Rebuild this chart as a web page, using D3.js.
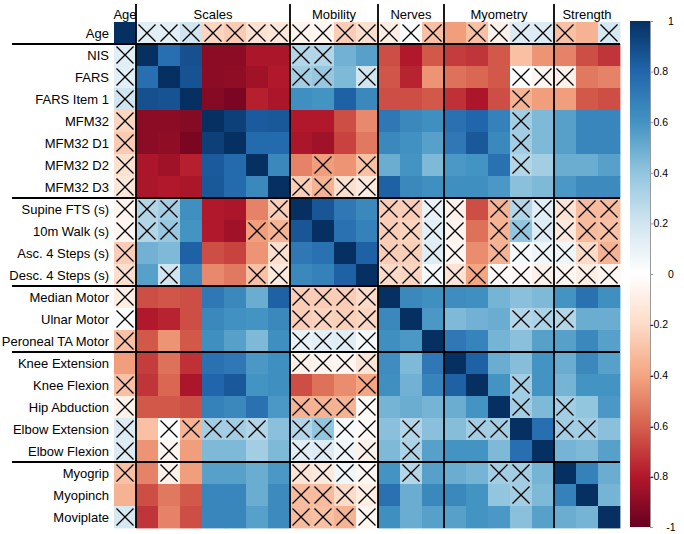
<!DOCTYPE html>
<html><head><meta charset="utf-8">
<script src="https://cdn.jsdelivr.net/npm/d3@7"></script>
<style>
body{margin:0;background:#fff}
svg{display:block}
text{font-family:"Liberation Sans",Arial,Helvetica,sans-serif;fill:#000}
</style>
</head><body><svg id="c" width="684" height="534"></svg>
<script>
// ---------------- DATA ----------------
const variables = ["Age","NIS","FARS","FARS Item 1","MFM32","MFM32 D1","MFM32 D2","MFM32 D3",
  "Supine FTS (s)","10m Walk (s)","Asc. 4 Steps (s)","Desc. 4 Steps (s)",
  "Median Motor","Ulnar Motor","Peroneal TA Motor",
  "Knee Extension","Knee Flexion","Hip Abduction","Elbow Extension","Elbow Flexion",
  "Myogrip","Myopinch","Moviplate"];
const groupNames = ["Age","Scales","Mobility","Nerves","Myometry","Strength"];
const groupSizes = [1,7,4,3,5,3];

// lower triangle of the correlation matrix (row i: columns 0..i)
const corrLower = [
 [1],
 [0.13,1],
 [0.12,0.76,1],
 [0.2,0.88,0.87,1],
 [-0.22,-0.9,-0.9,-0.92,1],
 [-0.26,-0.9,-0.89,-0.95,0.94,1],
 [-0.16,-0.82,-0.85,-0.78,0.84,0.78,1],
 [-0.14,-0.82,-0.8,-0.82,0.85,0.78,0.65,1],
 [-0.06,0.3,0.35,0.62,-0.8,-0.82,-0.5,-0.25,1],
 [-0.05,0.3,0.38,0.6,-0.8,-0.85,-0.42,-0.35,0.86,1],
 [-0.25,0.48,0.45,0.82,-0.65,-0.68,-0.45,-0.18,0.72,0.75,1],
 [-0.18,0.55,0.2,0.65,-0.48,-0.53,-0.3,-0.12,0.65,0.68,0.82,1],
 [-0.1,-0.65,-0.63,-0.65,0.72,0.65,0.5,0.82,-0.25,-0.25,-0.25,-0.2,1],
 [0.02,-0.8,-0.77,-0.65,0.65,0.61,0.6,0.65,-0.25,-0.23,-0.24,-0.22,0.65,1],
 [-0.3,-0.62,-0.45,-0.62,0.62,0.55,0.45,0.62,0.1,0.12,0.14,0.05,0.62,0.58,1],
 [-0.42,-0.7,-0.55,-0.73,0.75,0.72,0.58,0.62,-0.08,-0.06,-0.05,-0.15,0.63,0.45,0.72,1],
 [-0.3,-0.72,-0.58,-0.82,0.8,0.85,0.6,0.62,-0.65,-0.55,-0.47,-0.4,0.62,0.48,0.67,0.82,1],
 [-0.08,-0.62,-0.62,-0.65,0.68,0.65,0.75,0.58,-0.35,-0.35,-0.35,-0.03,0.47,0.5,0.47,0.5,0.6,1],
 [0.15,-0.3,0.0,-0.35,0.35,0.35,0.3,0.42,0.3,0.4,0.04,-0.03,0.42,0.3,0.42,0.43,0.35,0.35,1],
 [0.15,-0.45,-0.05,-0.42,0.45,0.45,0.35,0.45,0.13,0.15,0.07,-0.08,0.45,0.32,0.55,0.6,0.6,0.45,0.76,1],
 [-0.3,-0.5,-0.08,-0.42,0.55,0.55,0.5,0.58,-0.15,-0.12,0.07,-0.05,0.6,0.3,0.55,0.5,0.47,0.35,0.35,0.47,1],
 [-0.35,-0.65,-0.53,-0.62,0.66,0.66,0.5,0.64,-0.32,-0.32,-0.2,-0.1,0.75,0.5,0.65,0.65,0.6,0.4,0.35,0.45,0.68,1],
 [0.18,-0.72,-0.5,-0.65,0.66,0.66,0.55,0.64,-0.32,-0.3,-0.35,-0.05,0.62,0.5,0.55,0.55,0.6,0.58,0.42,0.55,0.5,0.47,1]
];
// non-significant flags, lower triangle ("1" = crossed out)
const insignificant = [
 "0","10","100","1000","10000","100000","1000000","10000000",
 "111000010",
 "1110001100",
 "10000001000",
 "101000110000",
 "1000000011110",
 "10000000111100",
 "100000001111000",
 "0000000011110000",
 "10000000000100000",
 "100000001111000000",
 "1011111011110100110",
 "10100000111101000000",
 "101000001111010001100",
 "0000000011110000001000",
 "10000000111100000000000"
];
const colorTicks = [1,0.8,0.6,0.4,0.2,0,-0.2,-0.4,-0.6,-0.8,-1];
const palette = ["#67001F","#B2182B","#D6604D","#F4A582","#FDDBC7","#FFFFFF","#D1E5F0","#92C5DE","#4393C3","#2166AC","#053061"];

// ---------------- CHART ----------------
const svg = d3.select("#c");
const gLeft = 114, gTop = 22, cell = 22, n = variables.length;
const x = d3.scaleBand().domain(variables).range([gLeft, gLeft + n*cell]);
const y = d3.scaleBand().domain(variables).range([gTop, gTop + n*cell]);
const color = d3.scaleLinear().domain(d3.range(11).map(i => -1 + i*0.2)).range(palette).interpolate(d3.interpolateRgb);

const cells = [];
variables.forEach((r, i) => variables.forEach((c, j) => {
  const a = Math.max(i,j), b = Math.min(i,j);
  cells.push({r, c, v: corrLower[a][b], ns: insignificant[a][b] === "1"});
}));

svg.append("g").selectAll("rect").data(cells).join("rect")
  .attr("x", d => x(d.c)).attr("y", d => y(d.r))
  .attr("width", x.bandwidth() + 0.4).attr("height", y.bandwidth() + 0.4)
  .attr("fill", d => color(d.v));

const k = 2.5;
svg.append("g").selectAll("path").data(cells.filter(d => d.ns)).join("path")
  .attr("d", d => {
    const x0 = x(d.c) + k, y0 = y(d.r) + k, x1 = x(d.c) + cell - k, y1 = y(d.r) + cell - k;
    return `M${x0},${y0}L${x1},${y1}M${x1},${y0}L${x0},${y1}`;
  })
  .attr("stroke", "#000").attr("stroke-width", 1.3).attr("fill", "none");

// row labels
svg.append("g").selectAll("text").data(variables).join("text")
  .attr("x", 109).attr("y", d => y(d) + cell/2).attr("dy", "0.36em")
  .attr("text-anchor", "end").attr("font-size", 13).text(d => d);

// group separators and headers
const starts = groupSizes.map((s, i) => d3.sum(groupSizes.slice(0, i)));
const lines = svg.append("g").attr("stroke", "#000").attr("stroke-width", 1.8);
starts.slice(1).forEach(b => {
  lines.append("line").attr("x1", gLeft + b*cell).attr("x2", gLeft + b*cell).attr("y1", 4).attr("y2", gTop + n*cell);
  lines.append("line").attr("x1", 12).attr("x2", gLeft + n*cell).attr("y1", gTop + b*cell).attr("y2", gTop + b*cell);
});
svg.append("g").selectAll("text").data(groupNames).join("text")
  .attr("x", (d, i) => gLeft + (starts[i] + groupSizes[i]/2)*cell)
  .attr("y", 19).attr("text-anchor", "middle").attr("font-size", 13).text(d => d);

// colour legend
const cb = d3.scaleLinear().domain([-1, 1]).range([527, 21]);
const grad = svg.append("defs").append("linearGradient").attr("id", "g")
  .attr("x1", 0).attr("y1", 1).attr("x2", 0).attr("y2", 0);
palette.forEach((c, i) => grad.append("stop").attr("offset", i/10).attr("stop-color", c));
svg.append("rect").attr("x", 630).attr("y", cb(1)).attr("width", 20).attr("height", cb(-1) - cb(1)).attr("fill", "url(#g)");
const ax = svg.append("g").attr("transform", "translate(650,0)")
  .call(d3.axisRight(cb).tickValues(colorTicks).tickSize(3).tickSizeOuter(0).tickFormat(d => String(+d.toFixed(1))));
ax.select(".domain").attr("stroke", "#999");
ax.selectAll(".tick line").attr("stroke", "#999");
ax.selectAll(".tick text")
  .attr("font-family", "'Liberation Sans',Arial,sans-serif").attr("font-size", 10.5).attr("fill", "#111")
  .attr("text-anchor", d => Number.isInteger(d) ? "middle" : "end")
  .attr("x", d => Number.isInteger(d) ? 21 : 18);
</script>
</body></html>
